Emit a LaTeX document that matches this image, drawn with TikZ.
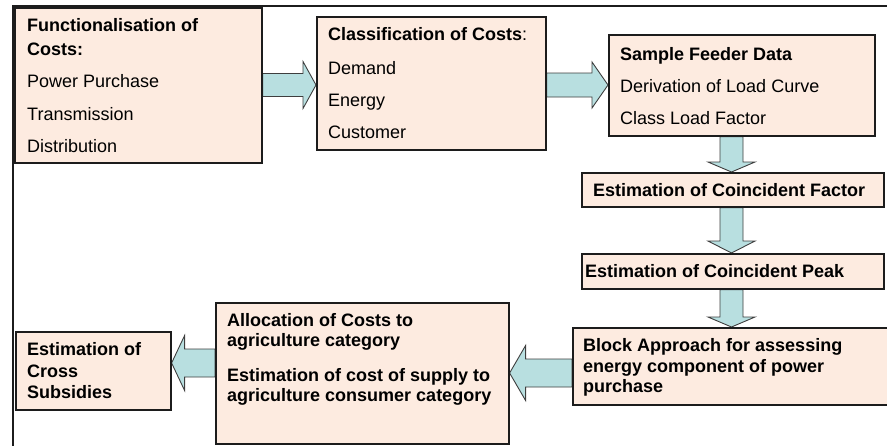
\documentclass[tikz,border=0pt]{standalone}
\usepackage{fontspec}
\setmainfont{Liberation Sans}
\usetikzlibrary{calc,backgrounds}

\definecolor{boxfill}{RGB}{253,235,224}
\definecolor{arrowfill}{RGB}{184,223,224}
\definecolor{edge}{RGB}{28,28,28}

\tikzset{
  box/.style={draw=edge, line width=1.6pt, fill=boxfill, rectangle,
              inner sep=0pt, anchor=north west},
  boxshadow/.style={fill=black!45, draw=none, rectangle, inner sep=0pt,
              anchor=north west},
  txt/.style={anchor=base west, inner sep=0pt, text=black,
              font=\fontsize{18}{21}\selectfont},
  btxt/.style={txt, font=\fontsize{18}{21}\selectfont\bfseries},
  blockarrow/.style={draw=edge!85, line width=0.9pt, fill=arrowfill, line join=miter},
  frameline/.style={draw=edge, line width=1.8pt}
}

% horizontal block arrow: tail anchor, tip anchor, centre y, shaft half, head half, head length (signed)
\newcommand{\harrow}[6]{%
  \draw[blockarrow] let \p1=(#1), \p2=(#2) in
    (\x1,{#3-#4}) -- ({\x2-(#6)},{#3-#4}) -- ({\x2-(#6)},{#3-#5}) -- (\x2,#3)
    -- ({\x2-(#6)},{#3+#5}) -- ({\x2-(#6)},{#3+#4}) -- (\x1,{#3+#4}) -- cycle;}
% vertical block arrow (downwards): tail anchor, tip anchor, centre x, shaft half, head half, head length
\newcommand{\varrow}[6]{%
  \draw[blockarrow] let \p1=(#1), \p2=(#2) in
    ({#3-#4},\y1) -- ({#3-#4},{\y2+#6pt}) -- ({#3-#5},{\y2+#6pt}) -- (#3,\y2)
    -- ({#3+#5},{\y2+#6pt}) -- ({#3+#4},{\y2+#6pt}) -- ({#3+#4},\y1) -- cycle;}

\begin{document}
\begin{tikzpicture}[x=1pt,y=-1pt]
\useasboundingbox (0,0) rectangle (887,445);

% outer frame
\draw[frameline] (890,6) -- (13,6) -- (13,450);

% shadows under the boxes
\foreach \bx/\by/\bw/\bh in {14/7/247/155, 316/16/229/133, 608/34/266/101,
    581/172/302/34, 581/253/302/35, 572/327/328/77, 215/302/293/141, 15/331/155/78}
  \node[boxshadow, minimum width=\bw pt, minimum height=\bh pt] at (\bx+1.6,\by+1.6) {};

% boxes
\node[box, minimum width=247pt, minimum height=155pt] (b1) at (14,7) {};
\node[box, minimum width=229pt, minimum height=133pt] (b2) at (316,16) {};
\node[box, minimum width=266pt, minimum height=101pt] (b3) at (608,34) {};
\node[box, minimum width=302pt, minimum height=34pt]  (b4) at (581,172) {};
\node[box, minimum width=302pt, minimum height=35pt]  (b5) at (581,253) {};
\node[box, minimum width=328pt, minimum height=77pt]  (b6) at (572,327) {};
\node[box, minimum width=293pt, minimum height=141pt] (b7) at (215,302) {};
\node[box, minimum width=155pt, minimum height=78pt]  (b8) at (15,331) {};

% connectors
\begin{pgfonlayer}{background}
\harrow{b1.east}{b2.west}{85}{11.5}{23.5}{13}
\harrow{b2.east}{b3.west}{85}{12}{23}{16}
\varrow{b3.south}{b4.north}{731.5}{11.5}{23.5}{10}
\varrow{b4.south}{b5.north}{731.5}{11.5}{23.5}{12}
\varrow{b5.south}{b6.north}{731.5}{11.5}{23.5}{10}
\harrow{b6.west}{b7.east}{373}{14}{27.5}{-16}
\harrow{b7.west}{b8.east}{363}{14}{27.5}{-13}
\end{pgfonlayer}

% texts
\node[btxt] (t1a) at (27,31.7)  {Functionalisation of};
\node[btxt] (t1b) at (27,55)    {Costs:};
\node[txt]  (t1c) at (27,87.5)  {Power Purchase};
\node[txt]  (t1d) at (27,120)   {Transmission};
\node[txt]  (t1e) at (27,152)   {Distribution};

\node[txt]  (t2a) at (328,40.7) {\textbf{Classification of Costs}:};
\node[txt]  (t2b) at (328,74)   {Demand};
\node[txt]  (t2c) at (328,106)  {Energy};
\node[txt]  (t2d) at (328,138)  {Customer};

\node[btxt] (t3a) at (620,60)   {Sample Feeder Data};
\node[txt]  (t3b) at (620,92.5) {Derivation of Load Curve};
\node[txt]  (t3c) at (620,124)  {Class Load Factor};

\node[btxt] (t4)  at (593,196)  {Estimation of Coincident Factor};
\node[btxt] (t5)  at (585,277)  {Estimation of Coincident Peak};

\node[btxt] (t6a) at (583,351.5) {Block Approach for assessing};
\node[btxt] (t6b) at (583,372.3) {energy component of power};
\node[btxt] (t6c) at (583,392.8) {purchase};

\node[btxt] (t7a) at (227,326.7) {Allocation of Costs to};
\node[btxt] (t7b) at (227,346.7) {agriculture category};
\node[btxt] (t7c) at (227,381)   {Estimation of cost of supply to};
\node[btxt] (t7d) at (227,401.5) {agriculture consumer category};

\node[btxt] (t8a) at (27,355)   {Estimation of};
\node[btxt] (t8b) at (27,377)   {Cross};
\node[btxt] (t8c) at (27,398)   {Subsidies};
\end{tikzpicture}
\end{document}
